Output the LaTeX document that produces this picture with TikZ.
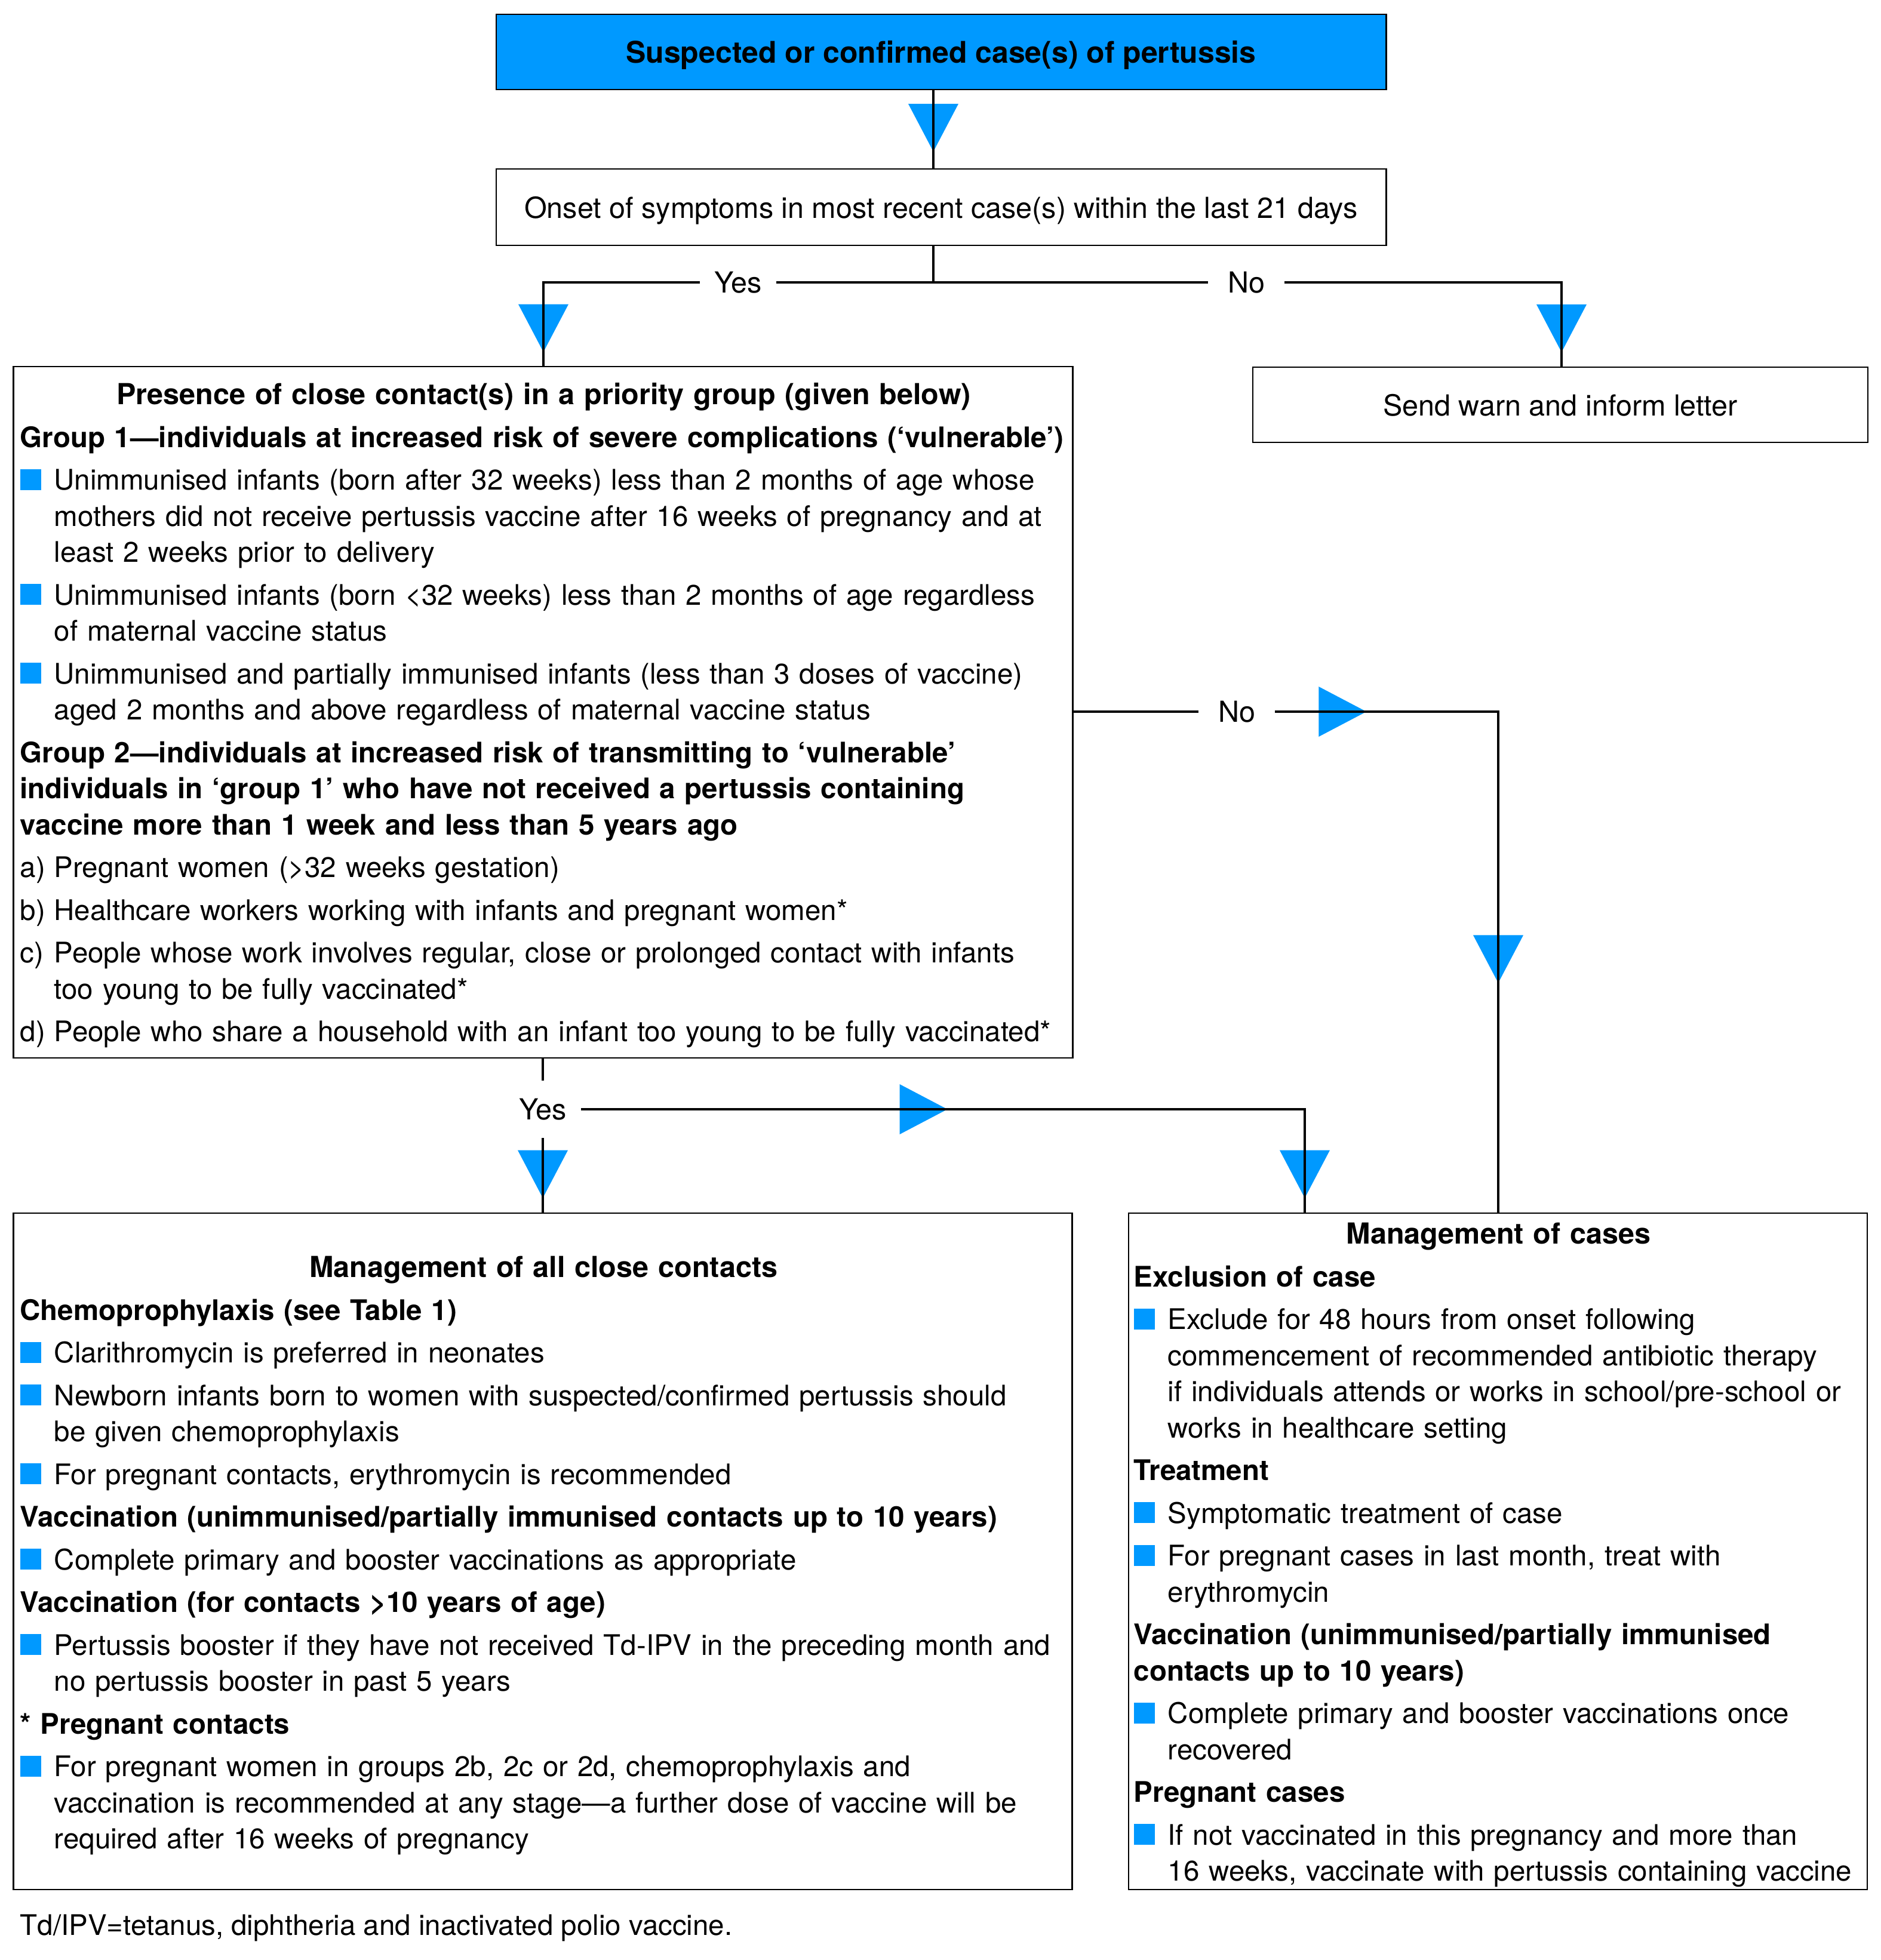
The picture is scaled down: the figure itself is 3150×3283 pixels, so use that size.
\documentclass[tikz,border=0pt]{standalone}
\usepackage{fontspec}
\setmainfont{TeX Gyre Heros}
\usetikzlibrary{arrows.meta,decorations.markings}
\definecolor{pblue}{HTML}{0099FF}
\newcommand{\sqitem}{\par\hangindent=0.57cm\hangafter=1\noindent\makebox[0.57cm][l]{\textcolor{pblue}{\rule{0.35cm}{0.35cm}}}}
\newcommand{\lbitem}[1]{\par\hangindent=0.57cm\hangafter=1\noindent\makebox[0.57cm][l]{#1}}
\newcommand{\hd}[1]{\par\noindent\textbf{#1}}
\newcommand{\ttl}[2]{\noindent\rule{0pt}{0.45cm}\makebox[#1][c]{\textbf{#2}}}
\begin{document}
\begin{tikzpicture}[x=0.01cm,y=-0.01cm,
  font=\fontsize{13.8pt}{17.2pt}\selectfont,
  box/.style={draw,line width=0.6pt,inner sep=0pt,text depth=0pt},
  txt/.style={anchor=north west,inner sep=0pt,text width=#1,align=left,
    font=\fontsize{13.5pt}{17.2pt}\selectfont,
    execute at begin node={\setlength{\parskip}{0.11cm}}},
  lbl/.style={inner sep=0pt,minimum width=1.27cm,minimum height=0.95cm},
  flow/.style={line width=1pt},
  tri/.style={preaction={decorate,decoration={markings,
    mark=at position #1 with {\arrow{Triangle[length=0.8cm,width=0.84cm,color=pblue,line width=0pt]}}}}}]
  \useasboundingbox (0,0) rectangle (3150,3283);

  \node[box,fill=pblue,minimum width=14.9cm,minimum height=1.26cm] (susp) at (1576,87)
    {\fontsize{14.2pt}{17.2pt}\selectfont\textbf{Suspected or confirmed case(s) of pertussis}};
  \node[box,minimum width=14.9cm,minimum height=1.28cm] (onset) at (1576,347)
    {Onset of symptoms in most recent case(s) within the last 21 days};
  \node[box,minimum width=10.3cm,minimum height=1.26cm] (send) at (2613,678)
    {Send warn and inform letter};
  \node[box,minimum width=17.73cm,minimum height=11.58cm] (presence) at (909.5,1193) {};
  \node[box,minimum width=17.72cm,minimum height=11.33cm] (contacts) at (909,2598.5) {};
  \node[box,minimum width=12.37cm,minimum height=11.33cm] (cases) at (2508.5,2598.5) {};

  \node[txt=18.5cm] (presencetxt) at (33,632) {%
    \ttl{17.53cm}{\fontsize{13.8pt}{17.2pt}\selectfont Presence of close contact(s) in a priority group (given below)}
    \hd{Group 1—individuals at increased risk of severe complications (‘vulnerable’)}
    \sqitem Unimmunised infants (born after 32 weeks) less than 2 months of age whose\newline
      mothers did not receive pertussis vaccine after 16 weeks of pregnancy and at\newline
      least 2 weeks prior to delivery
    \sqitem Unimmunised infants (born <32 weeks) less than 2 months of age regardless\newline
      of maternal vaccine status
    \sqitem Unimmunised and partially immunised infants (less than 3 doses of vaccine)\newline
      aged 2 months and above regardless of maternal vaccine status
    \hd{Group 2—individuals at increased risk of transmitting to ‘vulnerable’\newline
      individuals in ‘group 1’ who have not received a pertussis containing\newline
      vaccine more than 1 week and less than 5 years ago}
    \lbitem{a)}Pregnant women (>32 weeks gestation)
    \lbitem{b)}Healthcare workers working with infants and pregnant women*
    \lbitem{c)}People whose work involves regular, close or prolonged contact with infants\newline
      too young to be fully vaccinated*
    \lbitem{d)}People who share a household with an infant too young to be fully vaccinated*\par};

  \node[txt=18.5cm] (contactstxt) at (33,2094) {%
    \ttl{17.52cm}{\fontsize{13.8pt}{17.2pt}\selectfont Management of all close contacts}
    \hd{Chemoprophylaxis (see Table 1)}
    \sqitem Clarithromycin is preferred in neonates
    \sqitem Newborn infants born to women with suspected/confirmed pertussis should\newline
      be given chemoprophylaxis
    \sqitem For pregnant contacts, erythromycin is recommended
    \hd{Vaccination (unimmunised/partially immunised contacts up to 10 years)}
    \sqitem Complete primary and booster vaccinations as appropriate
    \hd{Vaccination (for contacts >10 years of age)}
    \sqitem Pertussis booster if they have not received Td-IPV in the preceding month and\newline
      no pertussis booster in past 5 years
    \hd{* Pregnant contacts}
    \sqitem For pregnant women in groups 2b, 2c or 2d, chemoprophylaxis and\newline
      vaccination is recommended at any stage—a further dose of vaccine will be\newline
      required after 16 weeks of pregnancy\par};

  \node[txt=13.5cm] (casestxt) at (1898,2038) {%
    \ttl{12.21cm}{\fontsize{13.8pt}{17.2pt}\selectfont Management of cases}
    \hd{Exclusion of case}
    \sqitem Exclude for 48 hours from onset following\newline
      commencement of recommended antibiotic therapy\newline
      if individuals attends or works in school/pre-school or\newline
      works in healthcare setting
    \hd{Treatment}
    \sqitem Symptomatic treatment of case
    \sqitem For pregnant cases in last month, treat with\newline
      erythromycin
    \hd{Vaccination (unimmunised/partially immunised\newline
      contacts up to 10 years)}
    \sqitem Complete primary and booster vaccinations once\newline
      recovered
    \hd{Pregnant cases}
    \sqitem If not vaccinated in this pregnancy and more than\newline
      16 weeks, vaccinate with pertussis containing vaccine\par};

  \node[anchor=base west,inner sep=0pt,font=\fontsize{13.5pt}{17.2pt}\selectfont] (note) at (33,3241)
    {Td/IPV=tetanus, diphtheria and inactivated polio vaccine.};

  \coordinate (split) at (1563,473);
  \coordinate (ycorner) at (910,473);
  \coordinate (ncorner) at (2615,473);
  \coordinate (ncorner2) at (2509,1192);
  \coordinate (ycorner2) at (2185,1858);
  \node[lbl] (yes1) at (1236,473) {Yes};
  \node[lbl] (no1) at (2087,473) {No};
  \node[lbl] (no2) at (2071,1192) {No};
  \node[lbl] (yes2) at (909,1858) {Yes};

  \draw[flow,tri=-0.28cm] (susp.south -| split) -- (onset.north -| split);
  \draw[flow] (onset.south -| split) -- (split) -- (yes1.east);
  \draw[flow] (split) -- (no1.west);
  \draw[flow,tri=-0.23cm] (yes1.west) -- (ycorner) -- (presence.north -| ycorner);
  \draw[flow,tri=-0.24cm] (no1.east) -- (ncorner) -- (send.north -| ncorner);
  \draw[flow] (presence.east |- no2) -- (no2.west);
  \draw[flow,tri=1.53cm,tri=-3.84cm] (no2.east) -- (ncorner2) -- (cases.north -| ncorner2);
  \draw[flow] (presence.south -| yes2) -- (yes2.north);
  \draw[flow,tri=-0.24cm] (yes2.south) -- (contacts.north -| yes2);
  \draw[flow,tri=6.13cm,tri=-0.24cm] (yes2.east) -- (ycorner2) -- (cases.north -| ycorner2);
\end{tikzpicture}
\end{document}
